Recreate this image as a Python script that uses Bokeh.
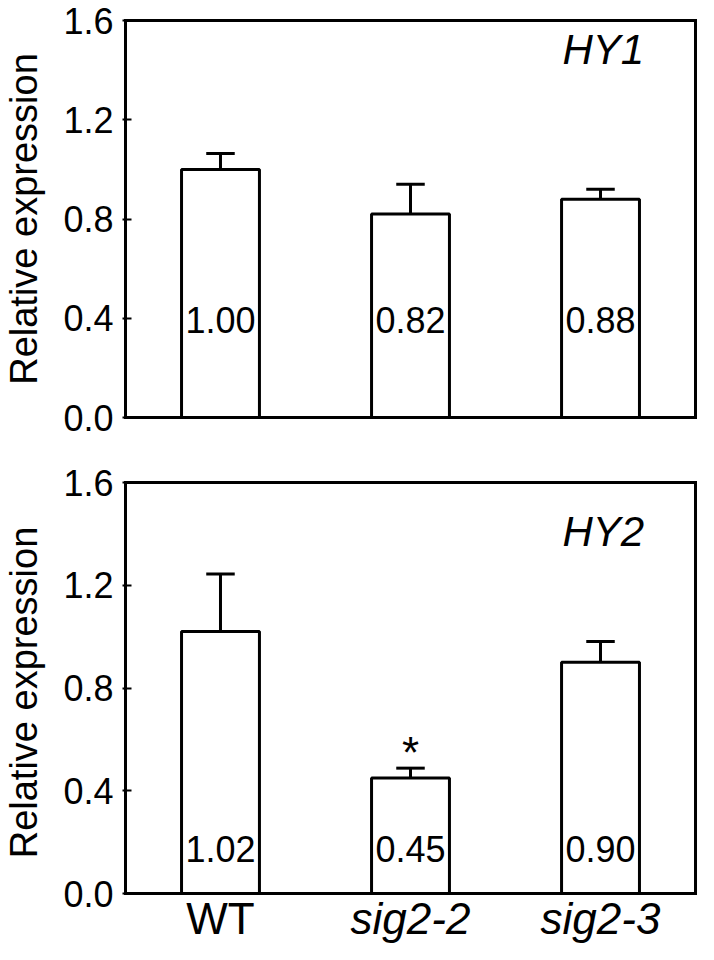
from bokeh.plotting import figure
from bokeh.models import Range1d, FixedTicker, PrintfTickFormatter, ColumnDataSource
from bokeh.layouts import column
from bokeh.embed import file_html
from bokeh.resources import INLINE
from bokeh.core.properties import value

# ---- data ----
categories = ["WT", "sig2-2", "sig2-3"]
category_style = ["normal", "italic", "italic"]
hy1_values = [1.00, 0.82, 0.88]
hy1_errors = [0.064, 0.12, 0.04]
hy1_labels = ["1.00", "0.82", "0.88"]
hy2_values = [1.02, 0.45, 0.90]
hy2_errors = [0.224, 0.038, 0.081]
hy2_labels = ["1.02", "0.45", "0.90"]
hy2_significant = [False, True, False]
y_ticks = [0.0, 0.4, 0.8, 1.2, 1.6]
y_axis_title = "Relative expression"

FONT = "Liberation Sans"
W = 698
BOX_LEFT, BOX_RIGHT = 123, 696     # px, plot box edges
PAD = 3                            # px, frame padding around the box
X0, X1 = -0.5, 2.5
Y0, Y1 = 0.0, 1.6
PPU_X = (BOX_RIGHT - BOX_LEFT) / (X1 - X0)


def make_panel(gene, values, errors, labels, significant, height,
               box_top, box_bottom, ext_top, ext_bottom, border_top,
               gene_y, label_y, tick_in, label_standoff, with_categories=False):
    ppu_y = (box_bottom - box_top) / (Y1 - Y0)
    p = figure(width=W, height=height, output_backend="svg", toolbar_location=None,
               title=None,
               x_range=Range1d(X0 - PAD / PPU_X, X1 + PAD / PPU_X),
               y_range=Range1d(Y0 - ext_bottom / ppu_y, Y1 + ext_top / ppu_y),
               min_border_left=BOX_LEFT - PAD, min_border_right=W - BOX_RIGHT - PAD,
               min_border_top=border_top,
               min_border_bottom=height - border_top - (box_bottom - box_top) - ext_top - ext_bottom)
    p.xgrid.visible = False
    p.ygrid.visible = False
    p.xaxis.visible = False
    p.outline_line_color = None
    p.background_fill_color = "white"
    p.border_fill_color = "white"

    ya = p.yaxis[0]
    ya.ticker = FixedTicker(ticks=y_ticks)
    ya.formatter = PrintfTickFormatter(format="%.1f")
    ya.axis_line_color = None
    ya.major_tick_in = tick_in
    ya.major_tick_out = 0
    ya.major_tick_line_width = 2
    ya.major_tick_line_color = "black"
    ya.minor_tick_line_color = None
    ya.major_label_text_font = FONT
    ya.major_label_text_font_size = "36px"
    ya.major_label_text_color = "black"
    ya.major_label_standoff = label_standoff
    ya.axis_label = y_axis_title
    ya.axis_label_text_font = FONT
    ya.axis_label_text_font_size = "38px"
    ya.axis_label_text_font_style = "normal"
    ya.axis_label_text_color = "black"
    ya.axis_label_standoff = 15

    xs = list(range(len(categories)))
    tops = [v + e for v, e in zip(values, errors)]
    src = ColumnDataSource(dict(x=xs, top=values, etop=tops, lab=labels,
                                ly=[label_y] * len(xs)))
    p.vbar(x="x", top="top", bottom=0, width=0.41, source=src,
           fill_color="white", line_color="black", line_width=3)
    p.segment(x0="x", y0="top", x1="x", y1="etop", source=src,
              line_color="black", line_width=3)
    cap_src = ColumnDataSource(dict(x0=[x - 0.075 for x in xs],
                                    x1=[x + 0.075 for x in xs], y=tops))
    p.segment(x0="x0", y0="y", x1="x1", y1="y", source=cap_src,
              line_color="black", line_width=3)
    p.text(x="x", y="ly", text="lab", source=src, text_font=value(FONT),
           text_font_size="36px", text_align="center", text_baseline="middle",
           text_color="black")

    if significant is not None:
        sx = [x for x, s in zip(xs, significant) if s]
        sy = [t + 0.06 for t, s in zip(tops, significant) if s]
        p.text(x=sx, y=sy, text=["*"] * len(sx), text_font=value(FONT),
               text_font_size="44px", text_align="center",
               text_baseline="middle", text_color="black")

    p.text(x=[2.23], y=[gene_y], text=[gene], text_font=value(FONT),
           text_font_size="42px", text_font_style="italic",
           text_align="right", text_baseline="middle", text_color="black")

    # plot box
    p.quad(left=[X0], right=[X1], bottom=[Y0], top=[Y1], fill_color=None,
           line_color="black", line_width=3, line_join="miter")

    if with_categories:
        cat_src = ColumnDataSource(dict(x=xs, y=[-0.097] * len(xs),
                                        name=categories, style=category_style))
        p.text(x="x", y="y", text="name", text_font_style="style", source=cat_src,
               text_font=value(FONT), text_font_size="44px", text_align="center",
               text_baseline="middle", text_color="black")
    return p


# top panel: box y 20..417 (figure 0..440)
p1 = make_panel("HY1", hy1_values, hy1_errors, hy1_labels, None,
                height=440, box_top=20, box_bottom=417, ext_top=PAD, ext_bottom=PAD,
                border_top=17, gene_y=1.485, label_y=0.391,
                tick_in=9, label_standoff=9)
# bottom panel: box y 482..893 in page terms (figure 440..944)
p2 = make_panel("HY2", hy2_values, hy2_errors, hy2_labels, hy2_significant,
                height=504, box_top=42, box_bottom=453, ext_top=42, ext_bottom=51,
                border_top=0, gene_y=1.409, label_y=0.173,
                tick_in=9, label_standoff=9, with_categories=True)

layout = column(p1, p2, spacing=0)
open("out.html", "w").write(file_html(layout, INLINE))
